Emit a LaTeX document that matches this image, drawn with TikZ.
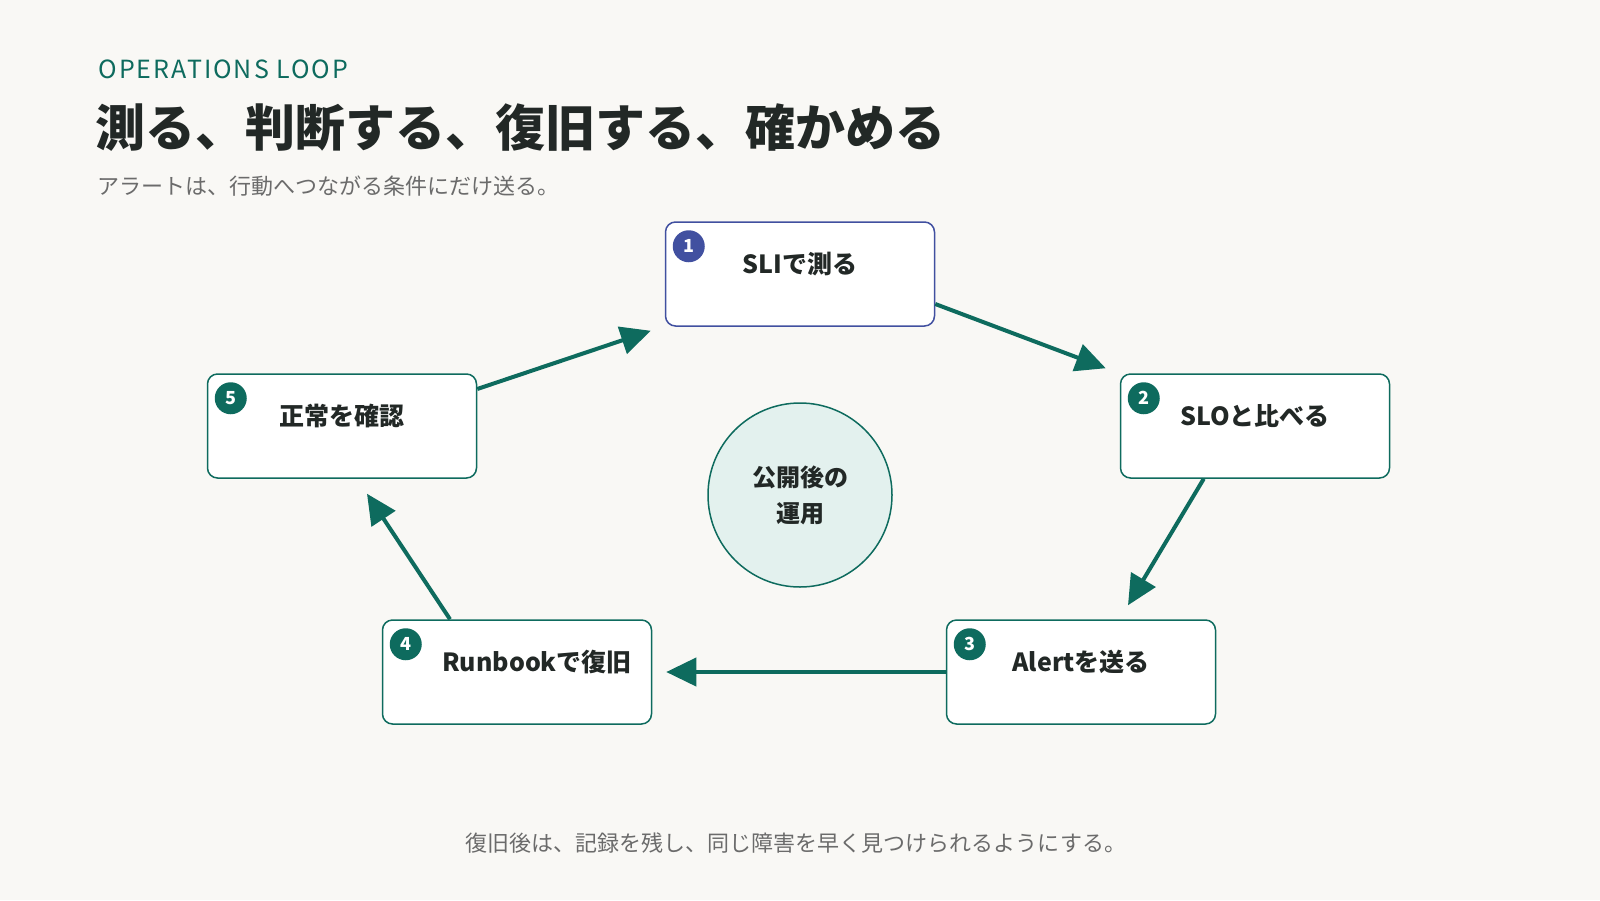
\documentclass[tikz,border=0pt]{standalone}
\usepackage{fontspec}
\setmainfont{Noto Sans CJK JP}
\usetikzlibrary{arrows.meta,calc,positioning}
\definecolor{teal}{HTML}{0E6B5E}
\definecolor{indigo}{HTML}{4150A0}
\definecolor{ink}{HTML}{222826}
\definecolor{muted}{HTML}{6B6B6B}
\definecolor{paper}{HTML}{F9F8F5}
\definecolor{mint}{HTML}{E3F1EE}
\tikzset{x=1pt, y=-1pt,
  stepbox/.style={draw=teal, line width=1.5pt, fill=white, rounded corners=10pt, minimum width=269pt, minimum height=104pt},
  badge/.style={circle, fill=teal, minimum size=32pt, inner sep=0pt, text=white, font=\fontsize{18}{18}\selectfont\bfseries},
  steptext/.style={text=ink, font=\fontsize{25}{25}\selectfont\bfseries},
  flow/.style={draw=teal, line width=4pt, -{Triangle[length=30pt,width=28pt]}}}
\begin{document}
\begin{tikzpicture}
  \fill[paper] (0,0) rectangle (1600,900);
  \useasboundingbox (0,0) rectangle (1600,900);

  \node[anchor=west, text=teal, font=\fontsize{25}{25}\selectfont\addfontfeatures{LetterSpace=8}] (kicker) at (95,69) {OPERATIONS LOOP};
  \node[anchor=west, text=ink, font=\fontsize{50}{50}\selectfont\bfseries] (title) at (92,128) {測る、判断する、復旧する、確かめる};
  \node[anchor=west, text=muted, font=\fontsize{22}{22}\selectfont] (sub) at (94,186) {アラートは、行動へつながる条件にだけ送る。};

  % steps
  \node[stepbox, draw=indigo] (b1) at (800,274) {};
  \node[stepbox] (b2) at (1255,426) {};
  \node[stepbox] (b3) at (1081,672) {};
  \node[stepbox] (b4) at (517,672) {};
  \node[stepbox] (b5) at (342,426) {};

  \node[badge, fill=indigo] at ($(b1.north west)+(24,25)$) {1};
  \node[badge] at ($(b2.north west)+(24,25)$) {2};
  \node[badge] at ($(b3.north west)+(24,25)$) {3};
  \node[badge] at ($(b4.north west)+(24,25)$) {4};
  \node[badge] at ($(b5.north west)+(24,25)$) {5};

  \node[steptext] at ($(b1.north)+(0,43)$) {SLIで測る};
  \node[steptext] at ($(b2.north)+(0,43)$) {SLOと比べる};
  \node[steptext] at ($(b3.north)+(0,43)$) {Alertを送る};
  \node[steptext] at ($(b4.north)+(20,43)$) {Runbookで復旧};
  \node[steptext] at ($(b5.north)+(0,43)$) {正常を確認};

  \node[circle, draw=teal, line width=1.5pt, fill=mint, minimum size=184pt, align=center, text=ink, font=\fontsize{24}{36}\selectfont\bfseries] (hub) at (800,495) {公開後の\\運用};

  % loop
  \draw[flow] ($(b1.east)+(0,30)$) -- ($(b2.north west)+(-14,-5)$);
  \draw[flow] ($(b2.south west)+(84,0)$) -- ($(b3.north)+(47,-14)$);
  \draw[flow] (b3.west) -- ($(b4.east)+(14,0)$);
  \draw[flow] ($(b4.north)+(-67,0)$) -- ($(b5.south)+(25,15)$);
  \draw[flow] ($(b5.east)+(0,-37)$) -- ($(b1.south west)+(-14,4)$);

  \node[text=muted, font=\fontsize{22}{22}\selectfont] (foot) at (796,843) {復旧後は、記録を残し、同じ障害を早く見つけられるようにする。};
\end{tikzpicture}
\end{document}
